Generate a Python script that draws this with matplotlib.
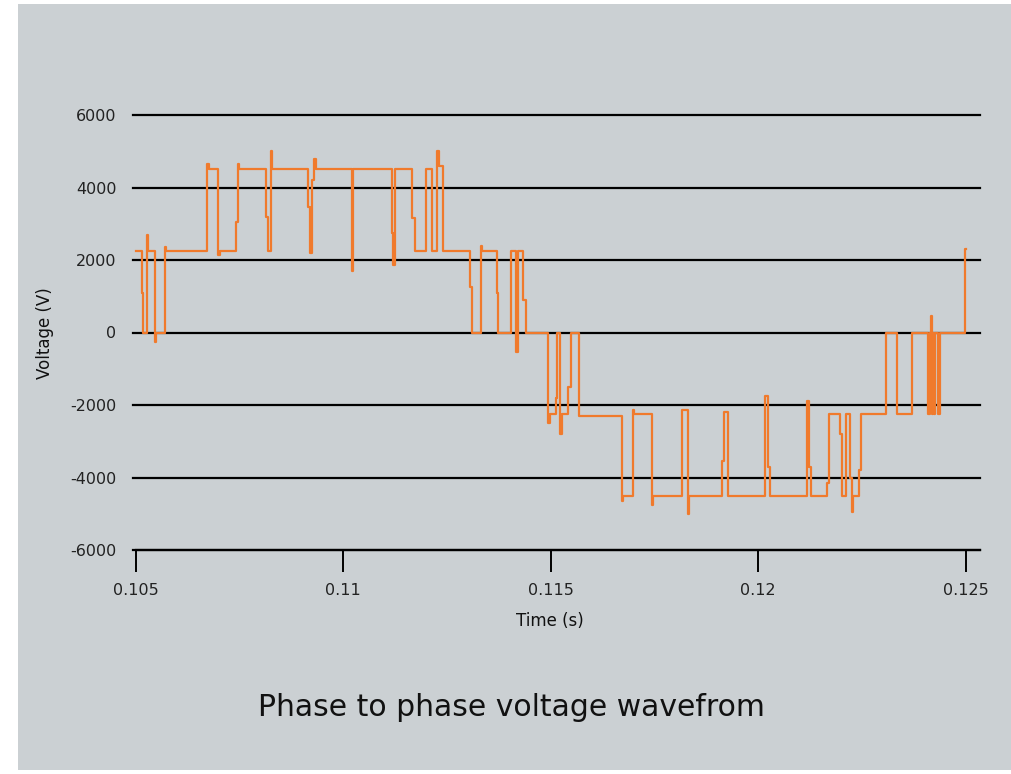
import numpy as np
import matplotlib
matplotlib.use("Agg")
import matplotlib.pyplot as plt
from matplotlib.patches import Rectangle

# switching instants (ms) and the voltage level held after each one (V)
times_ms = [
    105.000, 105.149, 105.188, 105.284, 105.308, 105.470, 105.494, 105.711, 105.735,
    106.730, 106.759, 106.995, 107.024, 107.421, 107.476, 107.505, 108.144, 108.199,
    108.252, 108.288, 109.148, 109.204, 109.245, 109.307, 109.336, 110.208, 110.239,
    111.172, 111.210, 111.251, 111.668, 111.733, 111.991, 112.135, 112.256, 112.299,
    112.415, 113.058, 113.113, 113.323, 113.347, 113.701, 113.740, 114.045, 114.159,
    114.221, 114.342, 114.400, 114.944, 114.973, 115.129, 115.161, 115.226, 115.262,
    115.426, 115.491, 115.691, 116.712, 116.743, 116.977, 117.008, 117.435, 117.466,
    118.157, 118.302, 118.333, 119.136, 119.184, 119.280, 120.164, 120.244, 120.285,
    121.169, 121.224, 121.272, 121.650, 121.706, 121.971, 122.026, 122.108, 122.212,
    122.253, 122.284, 122.428, 122.477, 123.079, 123.337, 123.712, 124.083, 124.127,
    124.151, 124.175, 124.199, 124.223, 124.247, 124.331, 124.380, 124.982, 125.000,
]
voltage = [
    2260, 1100, 0, 2700, 2260, -250, 0, 2350, 2260,
    4650, 4520, 2150, 2260, 3050, 4650, 4520, 3200, 2260,
    5000, 4520, 3450, 2200, 4200, 4800, 4520, 1700, 4520,
    2750, 1850, 4520, 3150, 2260, 4520, 2260, 5000, 4600,
    2260, 1250, 0, 2400, 2260, 1100, 0, 2260, -550,
    2260, 900, 0, -2500, -2260, -1800, 0, -2800, -2260,
    -1500, 0, -2300, -4650, -4520, -2150, -2260, -4750, -4520,
    -2150, -5000, -4520, -3550, -2200, -4520, -1750, -3700, -4520,
    -1900, -3700, -4520, -4150, -2260, -2800, -4520, -2260, -4000,
    -4950, -4520, -3800, -2260, 0, -2260, 0, -2260, 0,
    450, -2260, 0, -2260, 0, -2260, 0, 2300, 2300,
]

y_ticks = [-6000, -4000, -2000, 0, 2000, 4000, 6000]
x_ticks = [0.105, 0.11, 0.115, 0.12, 0.125]
x_tick_labels = ["0.105", "0.11", "0.115", "0.12", "0.125"]

W, H = 1011, 774
bg = "#cbd0d3"
orange = "#f07a2c"

fig = plt.figure(figsize=(W / 100, H / 100), dpi=100, facecolor="white")
fig.patches.append(Rectangle((18 / W, 4 / H), 1 - 18 / W, (770 - 4) / H,
                             transform=fig.transFigure, facecolor=bg,
                             edgecolor="none", zorder=-5))

# axes placed in pixel terms: left 133, right 980, top 115, bottom 550
ax = fig.add_axes([133 / W, (H - 550) / H, (980 - 133) / W, (550 - 115) / H])
ax.set_zorder(2)
ax.set_facecolor("none")

t = np.array(times_ms) / 1000.0
ax.plot(t, voltage, drawstyle="steps-post", color=orange, lw=1.6, zorder=3)

px_per_s = (965.8 - 135.5) / 0.02
ax.set_xlim(0.105 - (135.5 - 133) / px_per_s, 0.125 + (980 - 965.8) / px_per_s)
ax.set_ylim(-6000, 6000)

ax.set_yticks(y_ticks)
ax.set_yticklabels([str(v) for v in y_ticks])
ax.set_xticks(x_ticks)
ax.set_xticklabels(x_tick_labels)
ax.grid(axis="y", color="black", lw=1.6, zorder=1)
ax.grid(axis="x", visible=False)
for gl in ax.get_ygridlines():
    gl.set_clip_on(False)

for s in ["top", "right", "left"]:
    ax.spines[s].set_visible(False)
ax.spines["bottom"].set_color("black")
ax.spines["bottom"].set_linewidth(1.6)
ax.spines["bottom"].set_bounds(0.105, ax.get_xlim()[1])

ax.tick_params(axis="y", length=0, pad=12, labelsize=11.5, colors="#222222")
ax.tick_params(axis="x", direction="out", length=16, width=1.4, pad=8,
               labelsize=11.5, colors="black", labelcolor="#222222")

fig.text(550 / W, 1 - 621 / H, "Time (s)", ha="center", va="center",
         fontsize=12, color="#111111")
fig.text(45 / W, 1 - 333 / H, "Voltage (V)", ha="center", va="center",
         rotation=90, fontsize=12, color="#111111")
fig.text(511 / W, 1 - 707 / H, "Phase to phase voltage wavefrom",
         ha="center", va="center", fontsize=21.5, color="#111111")

fig.savefig("out.png", dpi=100, facecolor="white")
